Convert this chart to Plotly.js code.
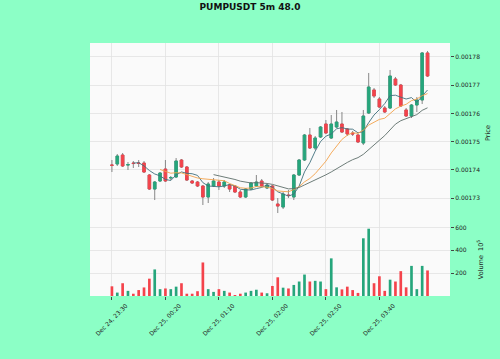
<!DOCTYPE html>
<html><head><meta charset="utf-8">
<script src="https://cdn.plot.ly/plotly-3.0.1.min.js"></script>
<style>html,body{margin:0;padding:0;background:#8cffc6;}</style>
</head><body><div id="chart" style="width:500px;height:359px;"></div>
<script>
const openP = [0.0017417,0.00174206,0.00174525,0.0017417,0.00174241,0.00174241,0.00174241,0.00173816,0.00173319,0.00173603,
0.00174028,0.00173709,0.00173745,0.00174348,0.00174099,0.00173603,0.00173567,0.00173426,0.00173036,0.00173426,
0.00173567,0.00173426,0.00173461,0.00173426,0.00173213,0.00173036,0.00173319,0.00173426,0.00173603,0.00173355,
0.00173426,0.00172787,0.00172681,0.00173106,0.00173036,0.00173816,0.00174348,0.00175234,0.00174773,0.00175163,
0.00175624,0.00175128,0.00175518,0.00175624,0.00175447,0.00175305,0.00175234,0.0017495,0.00176014,0.0017683,
0.00176511,0.00176192,0.00176192,0.0017722,0.00177007,0.00176121,0.00175908,0.00176298,0.00176475,0.00178142];
const highP = [0.00174348,0.0017456,0.00174596,0.00174277,0.00174312,0.00174348,0.00174312,0.00173851,0.00173603,0.00173922,
0.00174348,0.0017378,0.00174418,0.00174383,0.00174135,0.00173638,0.00173603,0.00173461,0.00173567,0.00173709,
0.00173638,0.00173638,0.00173497,0.00173461,0.00173284,0.00173355,0.00173567,0.00173816,0.00173674,0.00173497,
0.00173461,0.00173,0.00173213,0.00173284,0.00173851,0.00174383,0.0017527,0.00175482,0.00175199,0.00175553,
0.00175766,0.00175943,0.00176121,0.0017605,0.00175482,0.00175376,0.0017527,0.00176121,0.00177433,0.00176901,
0.00176582,0.00176262,0.00177539,0.00177291,0.00177043,0.00176192,0.00176333,0.00176582,0.00178177,0.00178213];
const lowP = [0.00173922,0.00174135,0.00174099,0.00173993,0.00174064,0.00174099,0.00173886,0.00173284,0.00172929,0.00173567,
0.00173567,0.00173638,0.00173709,0.00174064,0.00173603,0.00173497,0.0017339,0.00172752,0.00172823,0.0017339,
0.00173284,0.00173355,0.00173213,0.00173177,0.00173,0.00173,0.00173284,0.0017339,0.0017339,0.00173319,
0.00172894,0.00172468,0.0017261,0.00173,0.00172929,0.0017378,0.00174312,0.00174738,0.00174702,0.00175128,
0.0017527,0.00175093,0.00175482,0.00175305,0.00175199,0.00175199,0.0017495,0.00174879,0.00175979,0.00176546,
0.00176192,0.00176014,0.00176156,0.00176972,0.00176227,0.00175872,0.00175837,0.0017605,0.00176333,0.00177291];
const closeP = [0.0017416,0.00174489,0.00174135,0.00174185,0.00174223,0.0017423,0.00173922,0.00173319,0.00173567,0.00173886,
0.00173603,0.00173727,0.00174312,0.00174099,0.00173638,0.00173532,0.00173426,0.00173036,0.00173497,0.00173603,
0.00173426,0.00173567,0.00173319,0.00173213,0.00173036,0.00173319,0.00173532,0.00173567,0.00173426,0.00173461,
0.00172929,0.00172716,0.00173142,0.00173089,0.00173816,0.00174348,0.00175234,0.00174773,0.00175128,0.00175518,
0.00175305,0.00175624,0.00175695,0.0017534,0.0017527,0.0017527,0.00174986,0.00175908,0.00176936,0.00176617,
0.00176227,0.0017605,0.00177326,0.00177007,0.00176262,0.00175908,0.00176298,0.00176475,0.00178142,0.00177326];
const volume = [85,30,112,45,20,52,75,152,233,60,
66,60,82,112,20,20,42,294,60,36,
60,45,30,9,20,30,45,55,30,24,
88,164,73,66,97,127,188,127,133,127,
60,330,76,58,82,52,27,506,590,112,
173,45,143,127,218,76,264,60,264,224];
const tickIndex = [0,10,20,30,40,50];
const tickLabels = ["Dec 24, 23:30","Dec 25, 00:20","Dec 25, 01:10","Dec 25, 02:00","Dec 25, 02:50","Dec 25, 03:40"];
const mavPeriods = [5,10,20];
const mavColors = ['#3f6f7d','#f3a24a','#5d6e6a'];

const UP = '#26a67c', DOWN = '#f4434b', WICK = '#7a7a7a';
const x = openP.map((_, i) => i);
const bodyHi = openP.map((o, i) => Math.max(o, closeP[i]));
const bodyLo = openP.map((o, i) => Math.min(o, closeP[i]));
const volColors = openP.map((o, i) => closeP[i] >= o ? UP : DOWN);

function sma(arr, n) {
  const out = arr.map(() => null);
  for (let i = n - 1; i < arr.length; i++) {
    let s = 0; for (let k = i - n + 1; k <= i; k++) s += arr[k];
    out[i] = s / n;
  }
  return out;
}

const traces = [
  {type:'candlestick', x, open:openP, high:highP, low:lowP, close:closeP, xaxis:'x', yaxis:'y',
   whiskerwidth:0, hoverinfo:'skip', showlegend:false,
   increasing:{line:{color:WICK,width:0.9}, fillcolor:'rgba(0,0,0,0)'},
   decreasing:{line:{color:WICK,width:0.9}, fillcolor:'rgba(0,0,0,0)'}},
  {type:'candlestick', x, open:openP, high:bodyHi, low:bodyLo, close:closeP, xaxis:'x', yaxis:'y',
   whiskerwidth:0, hoverinfo:'skip', showlegend:false,
   increasing:{line:{color:UP,width:0.8}, fillcolor:UP},
   decreasing:{line:{color:DOWN,width:0.8}, fillcolor:DOWN}},
];
mavPeriods.forEach((n, k) => {
  traces.push({type:'scatter', mode:'lines', x, y:sma(closeP, n), xaxis:'x', yaxis:'y',
    line:{color:mavColors[k], width:0.9}, showlegend:false, hoverinfo:'skip'});
});
traces.push({type:'bar', x, y:volume, xaxis:'x', yaxis:'y2', width:0.5,
  marker:{color:volColors, line:{width:0}}, showlegend:false, hoverinfo:'skip'});

const tfont = {family:'DejaVu Sans', size:6, color:'#222'};
const layout = {
  width:500, height:359,
  paper_bgcolor:'#8cffc6', plot_bgcolor:'#fafafa',
  margin:{l:90, r:50, t:43, b:63},
  title:{text:'<b>PUMPUSDT 5m 48.0</b>', font:{family:'DejaVu Sans', size:9, color:'#111'}, x:0.5, xanchor:'center', y:0.98, yanchor:'middle'},
  showlegend:false,
  xaxis:{range:[-4.1, 63.2], anchor:'y2', tickvals:tickIndex, ticktext:tickLabels, tickangle:-45,
    ticklabelshift:14, ticks:'outside', ticklen:3, tickcolor:'#444', tickfont:tfont,
    showgrid:true, gridcolor:'#e2e2e2', gridwidth:0.8, zeroline:false, showline:false,
    rangeslider:{visible:false}, fixedrange:true},
  yaxis:{domain:[0.2885, 1], range:[0.00172114, 0.00178496], side:'right', anchor:'x',
    tickvals:[0.00173,0.00174,0.00175,0.00176,0.00177,0.00178], tickformat:'.5f',
    ticks:'outside', ticklen:3, tickcolor:'#444', tickfont:tfont,
    showgrid:true, gridcolor:'#e2e2e2', gridwidth:0.8, zeroline:false, showline:false,
    title:{text:'Price', font:{family:'DejaVu Sans', size:6.5, color:'#222'}, standoff:6}},
  yaxis2:{domain:[0, 0.2885], range:[0, 640], side:'right', anchor:'x',
    tickvals:[200,400,600], ticks:'outside', ticklen:3, tickcolor:'#444', tickfont:tfont,
    showgrid:true, gridcolor:'#e2e2e2', gridwidth:0.8, zeroline:false, showline:false,
    title:{text:'Volume  10<sup>5</sup>', font:{family:'DejaVu Sans', size:6.5, color:'#222'}, standoff:12}},
};
Plotly.newPlot('chart', traces, layout, {staticPlot:true, displayModeBar:false});
</script></body></html>
